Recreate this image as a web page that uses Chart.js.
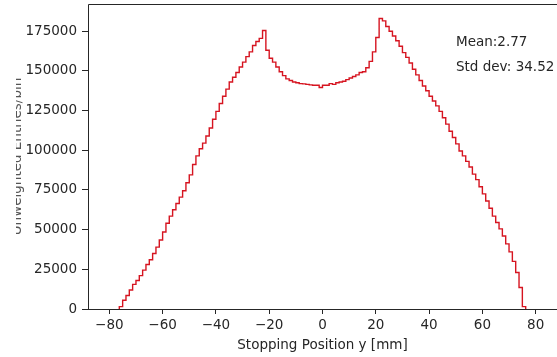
<!DOCTYPE html>
<html>
<head>
<meta charset="utf-8">
<script src="https://cdn.jsdelivr.net/npm/chart.js@4/dist/chart.umd.min.js"></script>
<style>
  body { margin: 0; background: #fff; }
  canvas { display: block; }
</style>
</head>
<body>
<canvas id="myCanvas" width="557" height="357"></canvas>
<script>
// histogram binning (mm)
const binLo = -76.25;
const binWidth = 1.25;

// entries per bin, left to right
const counts = [
    1500, 5500, 8500, 12000, 15500, 18000, 21000, 24500, 28000, 31000,
    35000, 39000, 43500, 48500, 54000, 58500, 62500, 66500, 70500, 74500,
    79500, 84500, 91000, 96500, 101000, 104500, 109000, 114000, 119500, 124500,
    129500, 134000, 138500, 143000, 146000, 149000, 152500, 155500, 159000, 162000,
    166000, 168500, 170500, 175500,
    163000, 158000, 155500, 152500, 149500, 147000, 145000, 144000, 143000, 142500,
    142000, 141800, 141500, 141200, 141000, 141000, 139500, 141000, 141000, 142000,
    141500, 142500, 143000, 143500, 144500, 145500, 146500, 147500, 149000, 149500,
    152000, 156000, 162000, 171000,
    183000, 181500, 178000, 175000, 172000, 169000, 165500, 161500, 158500, 155000,
    151000, 147500, 144000, 140500, 137500, 134000, 131000, 128000, 124500, 120500,
    116500, 112000, 108000, 104000, 99500, 96500, 93000, 89500, 85000, 81500,
    77000, 72500, 68000, 63500, 58500, 54500, 50500, 46000, 41000, 36000,
    30000, 23000, 13500, 1500
];

const xTicks = [-80, -60, -40, -20, 0, 20, 40, 60, 80];
const yTicks = [0, 25000, 50000, 75000, 100000, 125000, 150000, 175000];
const statLines = ['Mean:2.77', 'Std dev: 34.52'];

const xTitle = 'Stopping Position y [mm]';
const yTitle = 'Unweighted Entries/bin';

// step outline: each point holds its bin's count until the next edge
const steps = [{ x: binLo, y: 0 }];
counts.forEach((c, i) => steps.push({ x: binLo + i * binWidth, y: c }));
steps.push({ x: binLo + counts.length * binWidth, y: 0 });

const FONT = 'DejaVu Sans';
const INK = '#262626';
const SIZE = 13.5;

const frame = {
    id: 'frame',
    afterDatasetsDraw(chart) {
        const { ctx, chartArea: a } = chart;
        ctx.save();
        ctx.strokeStyle = INK;
        ctx.lineWidth = 1;
        ctx.beginPath();
        ctx.moveTo(a.left + 0.5, a.bottom + 0.5);
        ctx.lineTo(a.left + 0.5, a.top + 0.5);
        ctx.lineTo(a.right + 2, a.top + 0.5);
        ctx.moveTo(a.left, a.bottom + 0.5);
        ctx.lineTo(a.right + 2, a.bottom + 0.5);
        ctx.stroke();

        // stats box text
        ctx.fillStyle = INK;
        ctx.font = SIZE + 'px "' + FONT + '"';
        ctx.textAlign = 'left';
        ctx.textBaseline = 'alphabetic';
        statLines.forEach((s, i) => ctx.fillText(s, 456, 46 + i * 25));

        // y title, mostly cut off at the left edge
        ctx.beginPath();
        ctx.rect(16, 0, 20, chart.height);
        ctx.clip();
        ctx.translate(21, (a.top + a.bottom) / 2);
        ctx.rotate(-Math.PI / 2);
        ctx.textAlign = 'center';
        ctx.fillStyle = '#555';
        ctx.fillText(yTitle, 0, 0);
        ctx.restore();
    }
};

const data = {
    datasets: [{
        data: steps,
        stepped: 'before',
        borderColor: 'rgb(214, 20, 32)',
        borderWidth: 1.4,
        pointRadius: 0,
        fill: false
    }]
};

const config = {
    type: 'line',
    data: data,
    options: {
        responsive: false,
        animation: false,
        layout: { padding: { top: 4, left: 0, right: 0, bottom: 0 } },
        plugins: { legend: { display: false }, tooltip: { enabled: false } },
        scales: {
            x: {
                type: 'linear',
                min: -88,
                max: 88,
                afterBuildTicks: (s) => { s.ticks = xTicks.map(v => ({ value: v })); },
                afterFit: (s) => { s.height = 48; s.paddingLeft = 0; s.paddingRight = 0; },
                border: { display: false },
                grid: { drawOnChartArea: false, drawTicks: true, tickLength: 5, color: INK },
                ticks: {
                    maxRotation: 0,
                    autoSkip: false,
                    padding: 3,
                    color: INK,
                    font: { family: FONT, size: SIZE },
                    callback: (v) => String(v).replace('-', '\u2212')
                },
                title: {
                    display: true,
                    text: xTitle,
                    color: INK,
                    font: { family: FONT, size: SIZE },
                    padding: { top: 0, bottom: 3 }
                }
            },
            y: {
                min: 0,
                max: 192150,
                afterBuildTicks: (s) => { s.ticks = yTicks.map(v => ({ value: v })); },
                afterFit: (s) => { s.width = 88; s.paddingTop = 0; s.paddingBottom = 0; },
                border: { display: false },
                grid: { drawOnChartArea: false, drawTicks: true, tickLength: 6, color: INK },
                ticks: {
                    autoSkip: false,
                    padding: 5,
                    color: INK,
                    font: { family: FONT, size: SIZE },
                    callback: (v) => String(v)
                }
            }
        }
    },
    plugins: [frame]
};

const myChart = new Chart(document.getElementById('myCanvas').getContext('2d'), config);
</script>
</body>
</html>
